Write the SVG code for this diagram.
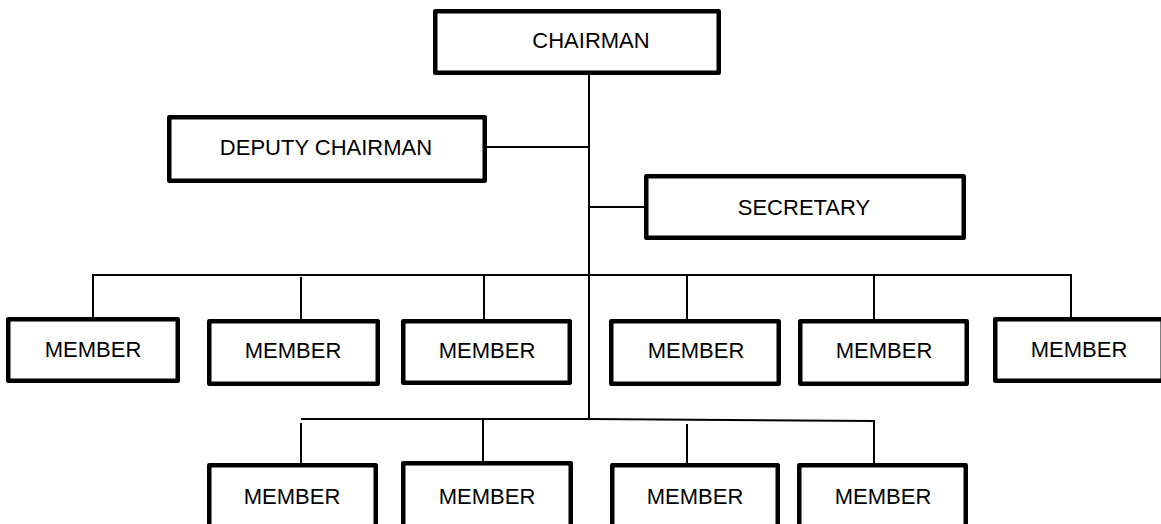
<svg xmlns="http://www.w3.org/2000/svg" width="1161" height="524" viewBox="0 0 1161 524">
  <style>
    .box { fill: #ffffff; stroke: #000000; stroke-width: 4.5; stroke-linejoin: round; }
    .lbl { font-family: "Liberation Sans", Arial, sans-serif; font-size: 22px; fill: #000000; text-anchor: middle; }
    .wire { fill: none; stroke: #000000; stroke-width: 2; }
  </style>
  <rect width="1161" height="524" fill="#ffffff"/>

  <!-- connectors -->
  <g id="connectors" class="wire">
    <path d="M589 75 V420"/>
    <path d="M487 147 H589"/>
    <path d="M589 207 H645"/>
    <!-- upper member bus -->
    <path d="M93 317 V275 H1071 V317"/>
    <path d="M301 277 V319"/>
    <path d="M484 275 V319"/>
    <path d="M687 275 V319"/>
    <path d="M874 275 V319"/>
    <!-- lower member bus -->
    <path d="M301 419 H589 L874 421 V463"/>
    <path d="M301 423 V463"/>
    <path d="M483 419 V461"/>
    <path d="M687 424 V463"/>
  </g>

  <g id="chairman">
    <rect class="box" x="435.25" y="11.25" width="283.5" height="61.5"/>
    <text class="lbl" x="591" y="48">CHAIRMAN</text>
  </g>
  <g id="deputy-chairman">
    <rect class="box" x="169.25" y="117.25" width="315.5" height="63.5"/>
    <text class="lbl" x="326" y="155">DEPUTY CHAIRMAN</text>
  </g>
  <g id="secretary">
    <rect class="box" x="646.25" y="176.25" width="317.5" height="61.5"/>
    <text class="lbl" x="804" y="215">SECRETARY</text>
  </g>

  <!-- upper row of members -->
  <g id="member-1">
    <rect class="box" x="8.25" y="319.25" width="169.5" height="61.5"/>
    <text class="lbl" x="93" y="357">MEMBER</text>
  </g>
  <g id="member-2">
    <rect class="box" x="209.25" y="321.25" width="168.5" height="62.5"/>
    <text class="lbl" x="293" y="358">MEMBER</text>
  </g>
  <g id="member-3">
    <rect class="box" x="403.25" y="321.25" width="166.5" height="61.5"/>
    <text class="lbl" x="487" y="358">MEMBER</text>
  </g>
  <g id="member-4">
    <rect class="box" x="611.25" y="321.25" width="167.5" height="62.5"/>
    <text class="lbl" x="696" y="358">MEMBER</text>
  </g>
  <g id="member-5">
    <rect class="box" x="800.25" y="321.25" width="166.5" height="62.5"/>
    <text class="lbl" x="884" y="358">MEMBER</text>
  </g>
  <g id="member-6">
    <rect class="box" x="995.25" y="319.25" width="167.5" height="61.5"/>
    <text class="lbl" x="1079" y="357">MEMBER</text>
  </g>

  <!-- lower row of members -->
  <g id="member-7">
    <rect class="box" x="209.25" y="465.25" width="166.5" height="64"/>
    <text class="lbl" x="292" y="504">MEMBER</text>
  </g>
  <g id="member-8">
    <rect class="box" x="403.25" y="463.25" width="167.5" height="64"/>
    <text class="lbl" x="487" y="504">MEMBER</text>
  </g>
  <g id="member-9">
    <rect class="box" x="612.25" y="465.25" width="165.5" height="64"/>
    <text class="lbl" x="695" y="504">MEMBER</text>
  </g>
  <g id="member-10">
    <rect class="box" x="799.25" y="465.25" width="166.5" height="64"/>
    <text class="lbl" x="883" y="504">MEMBER</text>
  </g>
</svg>
